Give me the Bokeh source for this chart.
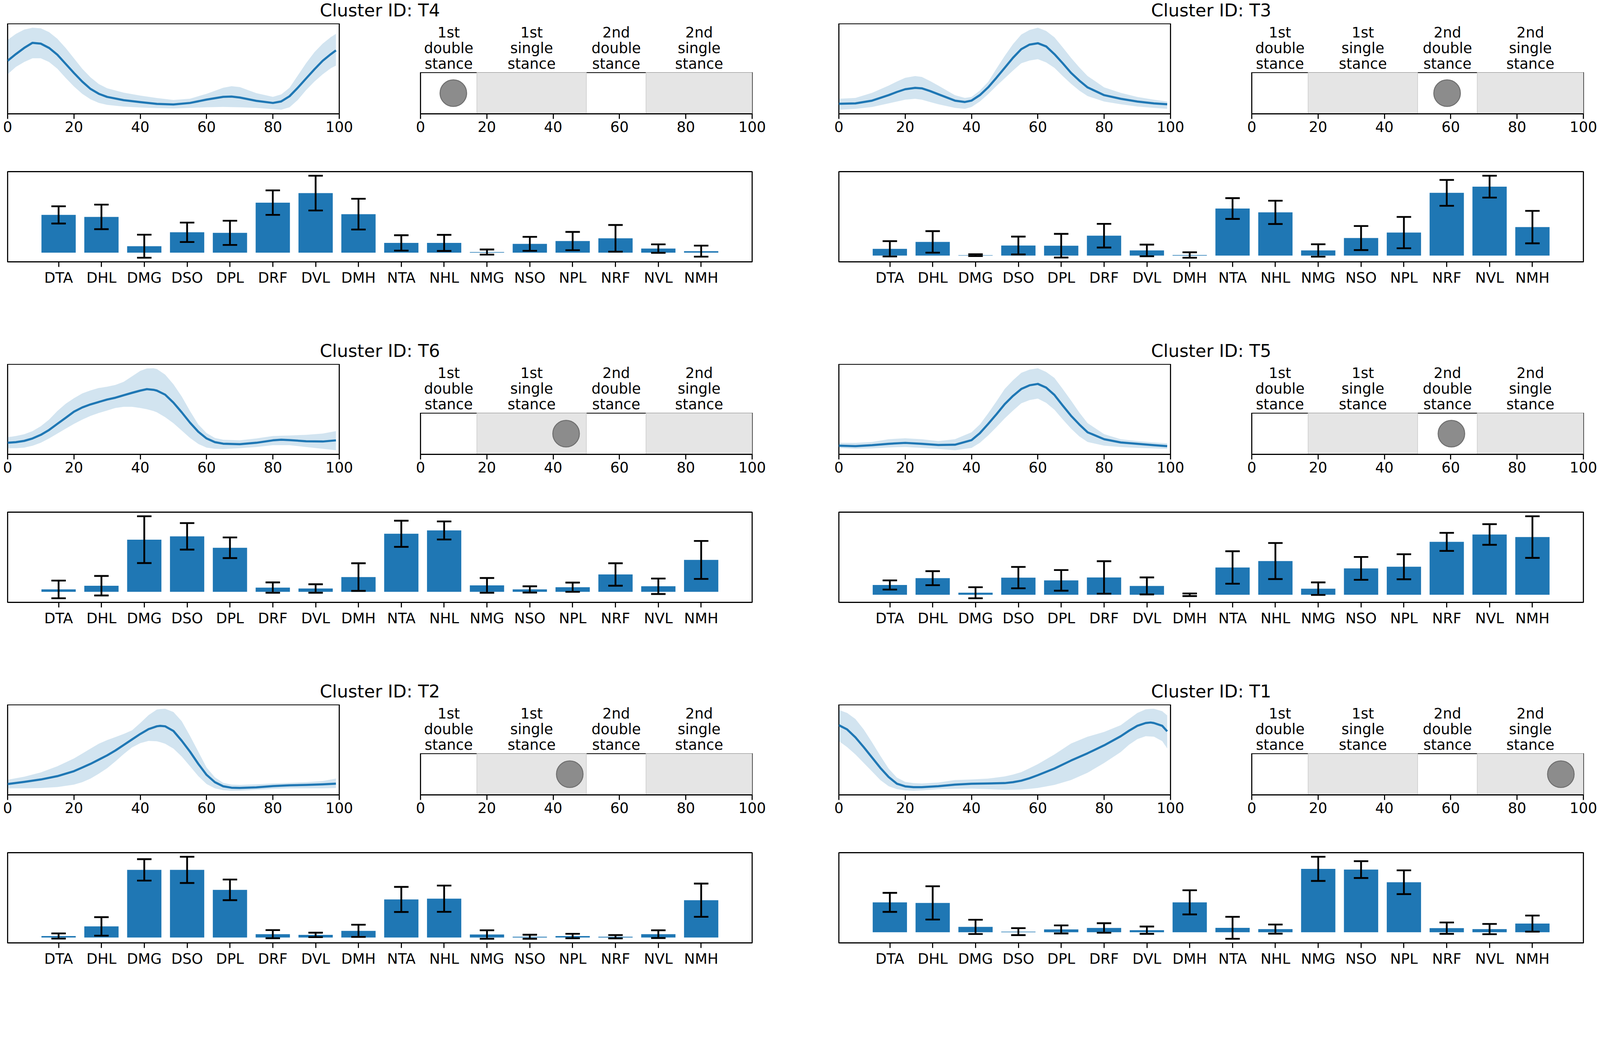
import numpy as np
from bokeh.plotting import figure
from bokeh.layouts import column, row
from bokeh.models import Range1d, FixedTicker, Spacer
from bokeh.embed import file_html
from bokeh.resources import INLINE
from bokeh.core.properties import value

# ---------------- data ----------------
muscles = ["DTA", "DHL", "DMG", "DSO", "DPL", "DRF", "DVL", "DMH",
           "NTA", "NHL", "NMG", "NSO", "NPL", "NRF", "NVL", "NMH"]
phase_ticks = [0, 20, 40, 60, 80, 100]
stance_edges = [0, 17, 50, 68, 100]
stance_labels = ["1st\ndouble\nstance", "1st\nsingle\nstance",
                 "2nd\ndouble\nstance", "2nd\nsingle\nstance"]
stance_shaded = [False, True, False, True]

# grid order (row-major): T4, T3 / T6, T5 / T2, T1
cluster_ids = ["T4", "T3", "T6", "T5", "T2", "T1"]
event_pos = [9.9, 58.9, 43.9, 60.2, 45.0, 93.2]

# --- T4 ---
t4_x = [0, 2.5, 5, 7.5, 10, 12.5, 15, 17.5, 20, 22.5, 25, 27.5, 30, 35, 40, 45, 50, 55, 60, 65,
        67.5, 70, 75, 80, 82.5, 85, 87.5, 90, 92.5, 95, 97.5, 99]
t4_mean = [0.588, 0.662, 0.73, 0.786, 0.777, 0.73, 0.655, 0.554, 0.453, 0.358, 0.277, 0.223, 0.189,
           0.153, 0.131, 0.112, 0.105, 0.122, 0.159, 0.189, 0.193, 0.182, 0.145, 0.122,
           0.139, 0.196, 0.29, 0.392, 0.493, 0.588, 0.662, 0.703]
t4_upper = [0.818, 0.885, 0.932, 0.953, 0.946, 0.905, 0.831, 0.73, 0.615, 0.50, 0.405, 0.331, 0.284,
            0.236, 0.203, 0.176, 0.155, 0.169, 0.223, 0.29, 0.307, 0.297, 0.23, 0.189,
            0.216, 0.29, 0.426, 0.561, 0.682, 0.777, 0.851, 0.885]
t4_lower = [0.439, 0.52, 0.574, 0.615, 0.615, 0.574, 0.50, 0.399, 0.304, 0.223, 0.162, 0.122, 0.101,
            0.081, 0.072, 0.065, 0.061, 0.068, 0.074, 0.078, 0.076, 0.074, 0.068, 0.054,
            0.047, 0.074, 0.155, 0.264, 0.358, 0.439, 0.507, 0.534]
t4_bars = [206, 195, 35, 111, 108, 273, 325, 210, 53, 53, 3, 48, 63, 78, 22, 8]
t4_err = [47, 67, 63, 53, 66, 67, 95, 84, 42, 44, 14, 38, 50, 73, 23, 30]

# --- T3 ---
t3_x = [0, 5, 10, 15, 17.5, 20, 23, 25, 27.5, 30, 35, 38, 40, 42.5, 45, 47.5, 50, 52.5, 55, 57.5,
        60, 62.5, 65, 67.5, 70, 72.5, 75, 80, 85, 90, 95, 99]
t3_mean = [0.115, 0.12, 0.15, 0.21, 0.245, 0.275, 0.29, 0.285, 0.255, 0.22, 0.15, 0.135, 0.15, 0.21,
           0.295, 0.40, 0.51, 0.62, 0.715, 0.765, 0.78, 0.745, 0.66, 0.56, 0.455, 0.37, 0.295,
           0.21, 0.17, 0.14, 0.12, 0.11]
t3_upper = [0.17, 0.18, 0.235, 0.315, 0.36, 0.40, 0.42, 0.41, 0.365, 0.315, 0.21, 0.18, 0.19, 0.26,
            0.355, 0.50, 0.64, 0.77, 0.875, 0.925, 0.95, 0.915, 0.845, 0.735, 0.62, 0.515, 0.42,
            0.295, 0.235, 0.19, 0.16, 0.14]
t3_lower = [0.05, 0.06, 0.08, 0.12, 0.14, 0.16, 0.17, 0.16, 0.135, 0.11, 0.07, 0.06, 0.08, 0.14,
            0.22, 0.31, 0.395, 0.48, 0.56, 0.59, 0.605, 0.57, 0.51, 0.42, 0.335, 0.26, 0.20,
            0.14, 0.11, 0.085, 0.07, 0.06]
t3_bars = [37, 75, 2, 55, 54, 109, 28, 3, 258, 237, 28, 96, 126, 344, 378, 156]
t3_err = [42, 59, 5, 49, 65, 65, 32, 15, 57, 64, 34, 66, 86, 71, 60, 89]

# --- T6 ---
t6_x = [0, 2.5, 5, 7.5, 10, 12.5, 15, 17.5, 20, 22.5, 25, 27.5, 30, 32.5, 35, 37.5, 40, 42, 44, 45,
        47.5, 50, 52.5, 55, 57.5, 60, 62.5, 65, 70, 75, 80, 82.5, 85, 90, 95, 99]
t6_mean = [0.128, 0.135, 0.149, 0.176, 0.216, 0.27, 0.338, 0.405, 0.473, 0.52, 0.554, 0.581, 0.608,
           0.628, 0.655, 0.682, 0.707, 0.723, 0.716, 0.707, 0.662, 0.574, 0.466, 0.351, 0.25,
           0.176, 0.135, 0.118, 0.112, 0.128, 0.155, 0.162, 0.158, 0.145, 0.142, 0.155]
t6_upper = [0.189, 0.203, 0.223, 0.257, 0.311, 0.385, 0.48, 0.561, 0.622, 0.676, 0.709, 0.736, 0.75,
            0.77, 0.804, 0.865, 0.926, 0.953, 0.955, 0.946, 0.885, 0.777, 0.642, 0.48, 0.331,
            0.236, 0.182, 0.162, 0.155, 0.176, 0.203, 0.206, 0.209, 0.216, 0.23, 0.257]
t6_lower = [0.068, 0.068, 0.074, 0.095, 0.128, 0.176, 0.23, 0.284, 0.338, 0.385, 0.426, 0.459, 0.486,
            0.514, 0.527, 0.527, 0.514, 0.50, 0.48, 0.466, 0.412, 0.345, 0.264, 0.182, 0.115,
            0.074, 0.061, 0.058, 0.068, 0.081, 0.101, 0.101, 0.101, 0.081, 0.061, 0.045]
t6_bars = [13, 33, 283, 301, 239, 23, 18, 80, 315, 333, 35, 13, 25, 94, 30, 173]
t6_err = [48, 53, 127, 72, 56, 28, 23, 75, 71, 49, 40, 17, 25, 61, 42, 103]

# --- T5 ---
t5_x = [0, 5, 10, 15, 20, 25, 30, 35, 40, 42.5, 45, 47.5, 50, 52.5, 55, 57.5, 60, 62.5, 65, 67.5,
        70, 72.5, 75, 80, 85, 90, 95, 99]
t5_mean = [0.11, 0.105, 0.115, 0.13, 0.14, 0.13, 0.117, 0.12, 0.17, 0.245, 0.345, 0.45, 0.56, 0.65,
           0.725, 0.765, 0.78, 0.74, 0.66, 0.545, 0.435, 0.34, 0.255, 0.18, 0.145, 0.13, 0.115, 0.105]
t5_upper = [0.14, 0.14, 0.15, 0.18, 0.19, 0.18, 0.16, 0.18, 0.255, 0.34, 0.46, 0.59, 0.725, 0.82,
            0.90, 0.935, 0.95, 0.91, 0.845, 0.725, 0.60, 0.47, 0.355, 0.235, 0.18, 0.16, 0.145, 0.135]
t5_lower = [0.085, 0.075, 0.08, 0.09, 0.095, 0.085, 0.075, 0.06, 0.085, 0.14, 0.22, 0.31, 0.405, 0.49,
            0.57, 0.605, 0.62, 0.575, 0.50, 0.395, 0.295, 0.21, 0.15, 0.11, 0.095, 0.085, 0.08, 0.075]
t5_bars = [53, 90, 11, 93, 78, 94, 48, 0, 148, 183, 33, 143, 152, 287, 327, 313]
t5_err = [25, 38, 30, 58, 56, 88, 46, 7, 88, 98, 34, 62, 68, 49, 56, 113]

# --- T2 ---
t2_x = [0, 5, 10, 15, 20, 22.5, 25, 27.5, 30, 32.5, 35, 37.5, 40, 42.5, 45, 46, 47.5, 50, 52.5, 55,
        57.5, 60, 62.5, 65, 67.5, 70, 75, 80, 85, 90, 95, 99]
t2_mean = [0.122, 0.145, 0.172, 0.209, 0.264, 0.304, 0.345, 0.392, 0.439, 0.493, 0.554, 0.615, 0.676,
           0.73, 0.761, 0.766, 0.761, 0.709, 0.601, 0.48, 0.345, 0.223, 0.142, 0.097, 0.081, 0.078,
           0.085, 0.099, 0.108, 0.112, 0.118, 0.126]
t2_upper = [0.169, 0.203, 0.25, 0.318, 0.405, 0.459, 0.514, 0.568, 0.608, 0.642, 0.676, 0.716, 0.797,
            0.885, 0.946, 0.952, 0.955, 0.919, 0.818, 0.655, 0.48, 0.304, 0.196, 0.135, 0.115, 0.112,
            0.118, 0.128, 0.135, 0.142, 0.155, 0.182]
t2_lower = [0.074, 0.074, 0.077, 0.088, 0.115, 0.142, 0.182, 0.236, 0.297, 0.372, 0.453, 0.527, 0.574,
            0.599, 0.595, 0.585, 0.568, 0.514, 0.426, 0.318, 0.209, 0.122, 0.074, 0.054, 0.047, 0.047,
            0.058, 0.068, 0.074, 0.074, 0.074, 0.077]
t2_bars = [8, 60, 366, 366, 258, 18, 14, 36, 206, 210, 16, 4, 8, 4, 18, 202]
t2_err = [14, 50, 58, 71, 56, 22, 12, 33, 68, 71, 23, 11, 12, 9, 21, 90]

# --- T1 ---
t1_x = [0, 2.5, 5, 7.5, 10, 12.5, 15, 17.5, 20, 22.5, 25, 30, 35, 40, 45, 50, 52.5, 55, 57.5, 60,
        65, 70, 75, 80, 85, 87.5, 90, 92.5, 94, 95, 97.5, 99]
t1_mean = [0.777, 0.73, 0.642, 0.534, 0.419, 0.304, 0.203, 0.128, 0.099, 0.09, 0.09, 0.101, 0.118,
           0.128, 0.131, 0.135, 0.145, 0.162, 0.189, 0.223, 0.297, 0.385, 0.466, 0.554, 0.655,
           0.716, 0.77, 0.801, 0.807, 0.801, 0.77, 0.709]
t1_upper = [0.946, 0.912, 0.845, 0.73, 0.588, 0.439, 0.297, 0.196, 0.149, 0.135, 0.131, 0.142, 0.169,
            0.176, 0.185, 0.209, 0.23, 0.257, 0.30, 0.345, 0.453, 0.574, 0.649, 0.703, 0.777,
            0.845, 0.912, 0.953, 0.958, 0.959, 0.932, 0.885]
t1_lower = [0.601, 0.534, 0.453, 0.358, 0.264, 0.169, 0.101, 0.068, 0.054, 0.05, 0.054, 0.068, 0.072,
            0.074, 0.068, 0.061, 0.062, 0.064, 0.072, 0.081, 0.115, 0.169, 0.25, 0.358, 0.48,
            0.561, 0.622, 0.655, 0.652, 0.649, 0.601, 0.52]
t1_bars = [163, 160, 29, 3, 15, 23, 11, 163, 24, 17, 346, 342, 273, 22, 17, 47]
t1_err = [52, 91, 39, 19, 22, 26, 20, 66, 60, 25, 66, 46, 65, 31, 28, 44]

line_x = [t4_x, t3_x, t6_x, t5_x, t2_x, t1_x]
line_mean = [t4_mean, t3_mean, t6_mean, t5_mean, t2_mean, t1_mean]
line_upper = [t4_upper, t3_upper, t6_upper, t5_upper, t2_upper, t1_upper]
line_lower = [t4_lower, t3_lower, t6_lower, t5_lower, t2_lower, t1_lower]
bar_vals = [t4_bars, t3_bars, t6_bars, t5_bars, t2_bars, t1_bars]
bar_errs = [t4_err, t3_err, t6_err, t5_err, t2_err, t1_err]

# ---------------- style (CSS px) ----------------
FONT = "DejaVu Sans"
BLUE = "#1f77b4"
TICK_FS = "37px"
TITLE_FS = "45px"
SPINE_W = 2.8
TICK_LEN = 13

B_LEFT = 19          # left border of curve / title / bar panels
B_RIGHT = 37         # right border (room for "100")
SMALL_W = 849        # frame width of curve / stance panels
WIDE_W = 1906        # frame width of title / bar panels
PANEL_H = 231        # frame height of curve / bar panels
BOX_H = 106          # frame height of stance box
LABEL_H = 125        # height of the stance-label strip
TITLE_H = 60
AX_B = 74            # bottom border of top panels
BAR_TOP = 74         # gap above bar frame
BAR_BOTTOM = 66
LINE_PITCH = 40
BLOCK_GAP = 166
ROW_GAP = 136


def padded(lo, hi, frac=0.05):
    pad = (hi - lo) * frac
    return Range1d(lo - pad, hi + pad)


def base_fig(fw, fh, left, right, top, bottom, xr, yr, x_axis=True, outline=True):
    p = figure(frame_width=fw, frame_height=fh,
               min_border_left=left, min_border_right=right,
               min_border_top=top, min_border_bottom=bottom,
               x_range=xr, y_range=yr,
               x_axis_location="below" if x_axis else None,
               y_axis_location=None,
               toolbar_location=None, output_backend="svg")
    p.background_fill_color = "white"
    p.border_fill_color = "white"
    p.grid.visible = False
    if outline:
        p.outline_line_color = "black"
        p.outline_line_width = SPINE_W
        p.outline_line_alpha = 1.0
    else:
        p.outline_line_color = None
    if x_axis:
        ax = p.xaxis[0]
        ax.major_tick_out = TICK_LEN
        ax.major_tick_in = 0
        ax.minor_tick_out = 0
        ax.minor_tick_in = 0
        ax.axis_line_width = SPINE_W
        ax.axis_line_color = "black"
        ax.major_tick_line_width = SPINE_W
        ax.major_tick_line_color = "black"
        ax.major_label_text_font = FONT
        ax.major_label_text_font_size = TICK_FS
        ax.major_label_text_color = "black"
        ax.major_label_standoff = 6
    return p


def make_block(i, bar_bottom):
    name = cluster_ids[i]
    # title strip
    tf = base_fig(WIDE_W, TITLE_H, B_LEFT, B_RIGHT, 0, 0, Range1d(0, 1), Range1d(0, 1),
                  x_axis=False, outline=False)
    tf.text(x=[0.5], y=[1], y_offset=26, text=["Cluster ID: " + name], text_align="center",
            text_baseline="middle", text_font=value(FONT), text_font_size=value(TITLE_FS),
            text_color="black")

    # mean activation curve with band
    lo = min(line_lower[i]); hi = max(line_upper[i])
    lf = base_fig(SMALL_W, PANEL_H, B_LEFT, B_RIGHT, 0, AX_B, Range1d(0, 100), padded(lo, hi))
    lf.varea(x=line_x[i], y1=line_lower[i], y2=line_upper[i], fill_color=BLUE, fill_alpha=0.2)
    lf.line(x=line_x[i], y=line_mean[i], line_color=BLUE, line_width=5.5, line_join="round")
    lf.xaxis[0].ticker = FixedTicker(ticks=phase_ticks)

    # stance phase labels (one glyph per text line, bottom line first)
    centers = [(a + b) / 2 for a, b in zip(stance_edges[:-1], stance_edges[1:])]
    sf = base_fig(SMALL_W, LABEL_H, B_RIGHT, B_RIGHT, 0, 0, Range1d(0, 100), Range1d(0, 1),
                  x_axis=False, outline=False)
    split = [lab.split("\n")[::-1] for lab in stance_labels]
    for k in range(3):
        sf.text(x=centers, y=[0] * len(centers), text=[s[k] for s in split],
                text_align="center", text_baseline="bottom", y_offset=-1 - k * LINE_PITCH,
                text_font=value(FONT), text_font_size=value(TICK_FS), text_color="black")

    # stance box with event marker
    bf = base_fig(SMALL_W, BOX_H, B_RIGHT, B_RIGHT, 0, AX_B, Range1d(0, 100), Range1d(0, 1))
    lefts = [a for a, s in zip(stance_edges[:-1], stance_shaded) if s]
    rights = [b for b, s in zip(stance_edges[1:], stance_shaded) if s]
    bf.quad(left=lefts, right=rights, bottom=0, top=1, fill_color="#e5e5e5",
            line_color="#d3d3d3", line_width=2)
    bf.scatter(x=[event_pos[i]], y=[0.5], size=68, marker="circle",
               fill_color="#8c8c8c", line_color="#6f6f6f", line_width=2.5)
    bf.xaxis[0].ticker = FixedTicker(ticks=phase_ticks)

    # muscle bars with error bars
    v = np.array(bar_vals[i], dtype=float)
    e = np.array(bar_errs[i], dtype=float)
    xs = np.arange(len(muscles))
    width = 0.8
    ylo = min(0.0, float((v - e).min())); yhi = max(0.0, float((v + e).max()))
    barf = base_fig(WIDE_W, PANEL_H, B_LEFT, B_RIGHT, BAR_TOP, bar_bottom,
                    padded(-width / 2, len(muscles) - 1 + width / 2), padded(ylo, yhi))
    barf.vbar(x=xs, top=v, width=width, fill_color=BLUE, line_color=None)
    barf.segment(x0=xs, y0=v - e, x1=xs, y1=v + e, line_color="black", line_width=4.6)
    barf.scatter(x=np.concatenate([xs, xs]), y=np.concatenate([v - e, v + e]), marker="dash",
                 size=37, line_color="black", line_width=4.6)
    barf.xaxis[0].ticker = FixedTicker(ticks=[int(k) for k in xs])
    barf.xaxis[0].major_label_overrides = {int(k): m for k, m in enumerate(muscles)}

    gap = (B_LEFT + WIDE_W + B_RIGHT) - (B_LEFT + SMALL_W + B_RIGHT) - (2 * B_RIGHT + SMALL_W)
    top_row = row(lf, Spacer(width=gap, height=10), column(sf, bf))
    return column(tf, top_row, barf)


bar_bottoms = [BAR_BOTTOM, BAR_BOTTOM, 0]
rows = []
for r in range(3):
    left = make_block(2 * r, bar_bottoms[r])
    right = make_block(2 * r + 1, bar_bottoms[r])
    rows.append(row(left, Spacer(width=BLOCK_GAP, height=10), right))
    if r < 2:
        rows.append(Spacer(width=10, height=ROW_GAP))
layout = column(*rows)

open("out.html", "w").write(file_html(layout, INLINE, title="Clusters"))
